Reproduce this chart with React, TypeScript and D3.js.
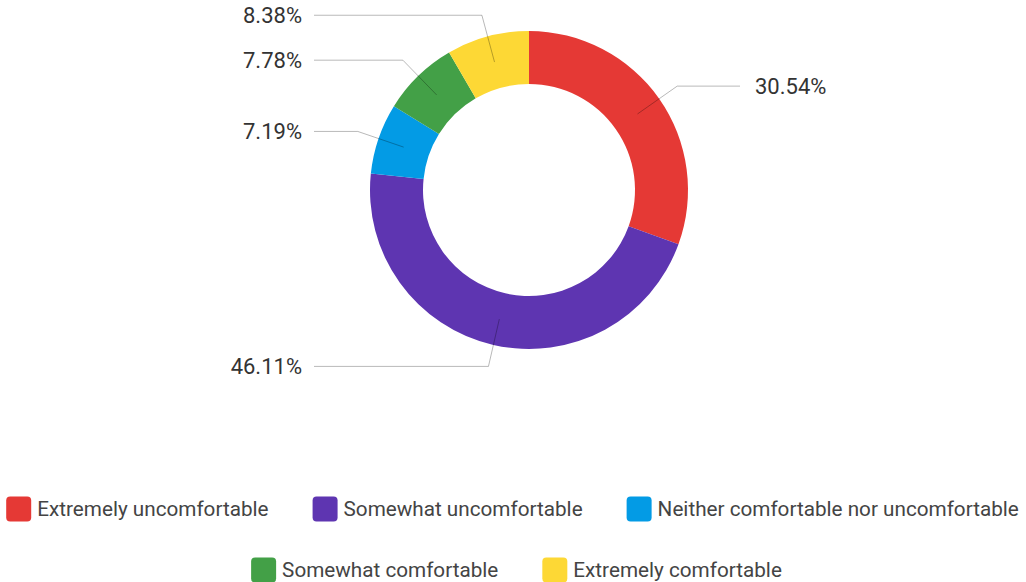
import React, { useEffect, useRef } from "react";
import * as d3 from "d3";

const categories = [
  "Extremely uncomfortable",
  "Somewhat uncomfortable",
  "Neither comfortable nor uncomfortable",
  "Somewhat comfortable",
  "Extremely comfortable",
];
const values = [30.54, 46.11, 7.19, 7.78, 8.38];
const colors = ["#E53935", "#5E35B1", "#039BE5", "#43A047", "#FDD835"];
const legendRows = [[0, 1, 2], [3, 4]];

const W = 1026;
const H = 582;
const FONT = "Roboto, 'Noto Sans', sans-serif";

export default function App() {
  const ref = useRef<SVGSVGElement | null>(null);

  useEffect(() => {
    const svg = d3.select(ref.current);
    svg.selectAll("*").remove();

    const cx = 529;
    const cy = 190;
    const outerR = 159;
    const innerR = 106;
    const midR = (outerR + innerR) / 2;
    const elbowR = 181;
    const lineReach = 215;

    const pie = d3.pie<number>().sort(null).value((d) => d);
    const arcs = pie(values);
    const arc = d3.arc<d3.PieArcDatum<number>>().innerRadius(innerR).outerRadius(outerR);

    const g = svg.append("g").attr("transform", `translate(${cx},${cy})`);
    g.selectAll("path.slice")
      .data(arcs)
      .join("path")
      .attr("class", "slice")
      .attr("d", arc as any)
      .attr("fill", (_d, i) => colors[i]);

    const mid = (d: d3.PieArcDatum<number>) => (d.startAngle + d.endAngle) / 2;
    const pt = (a: number, r: number) => [Math.sin(a) * r, -Math.cos(a) * r];

    arcs.forEach((d, i) => {
      const a = mid(d);
      const p1 = pt(a, midR);
      const p2 = pt(a, elbowR);
      const right = Math.sin(a) > 0;
      const x3 = right ? lineReach - 4 : -lineReach;
      g.append("polyline")
        .attr("points", `${p1[0]},${p1[1]} ${p2[0]},${p2[1]} ${x3},${p2[1]}`)
        .attr("fill", "none")
        .attr("stroke", "#000")
        .attr("stroke-opacity", 0.28)
        .attr("stroke-width", 1);
      g.append("text")
        .attr("x", right ? x3 + 15 : x3 - 12)
        .attr("y", p2[1])
        .attr("dy", "0.35em")
        .attr("text-anchor", right ? "start" : "end")
        .attr("font-family", FONT)
        .attr("font-size", 22)
        .attr("fill", "#333")
        .text(values[i].toFixed(2) + "%");
    });

    // Legend
    const sw = 25;
    const gapText = 6;
    const gapItem = 44;
    const rowY = [509, 570];
    const rowCx = [512.5, 516.5];
    legendRows.forEach((row, ri) => {
      const lg = svg.append("g");
      const widths: number[] = [];
      const items = row.map((idx) => {
        const ig = lg.append("g");
        ig.append("rect")
          .attr("width", sw)
          .attr("height", sw)
          .attr("y", -sw / 2)
          .attr("rx", 4)
          .attr("fill", colors[idx]);
        const t = ig
          .append("text")
          .attr("x", sw + gapText)
          .attr("dy", "0.35em")
          .attr("font-family", FONT)
          .attr("font-size", 20.7)
          .attr("fill", "#444")
          .text(categories[idx]);
        const tw = (t.node() as SVGTextElement).getComputedTextLength();
        widths.push(sw + gapText + tw);
        return ig;
      });
      const total = d3.sum(widths) + gapItem * (row.length - 1);
      let x = rowCx[ri] - total / 2;
      items.forEach((ig, k) => {
        ig.attr("transform", `translate(${x},${rowY[ri]})`);
        x += widths[k] + gapItem;
      });
    });
  }, []);

  return (
    <svg
      ref={ref}
      width={W}
      height={H}
      style={{ position: "absolute", left: 0, top: 0, background: "#fff" }}
    />
  );
}
